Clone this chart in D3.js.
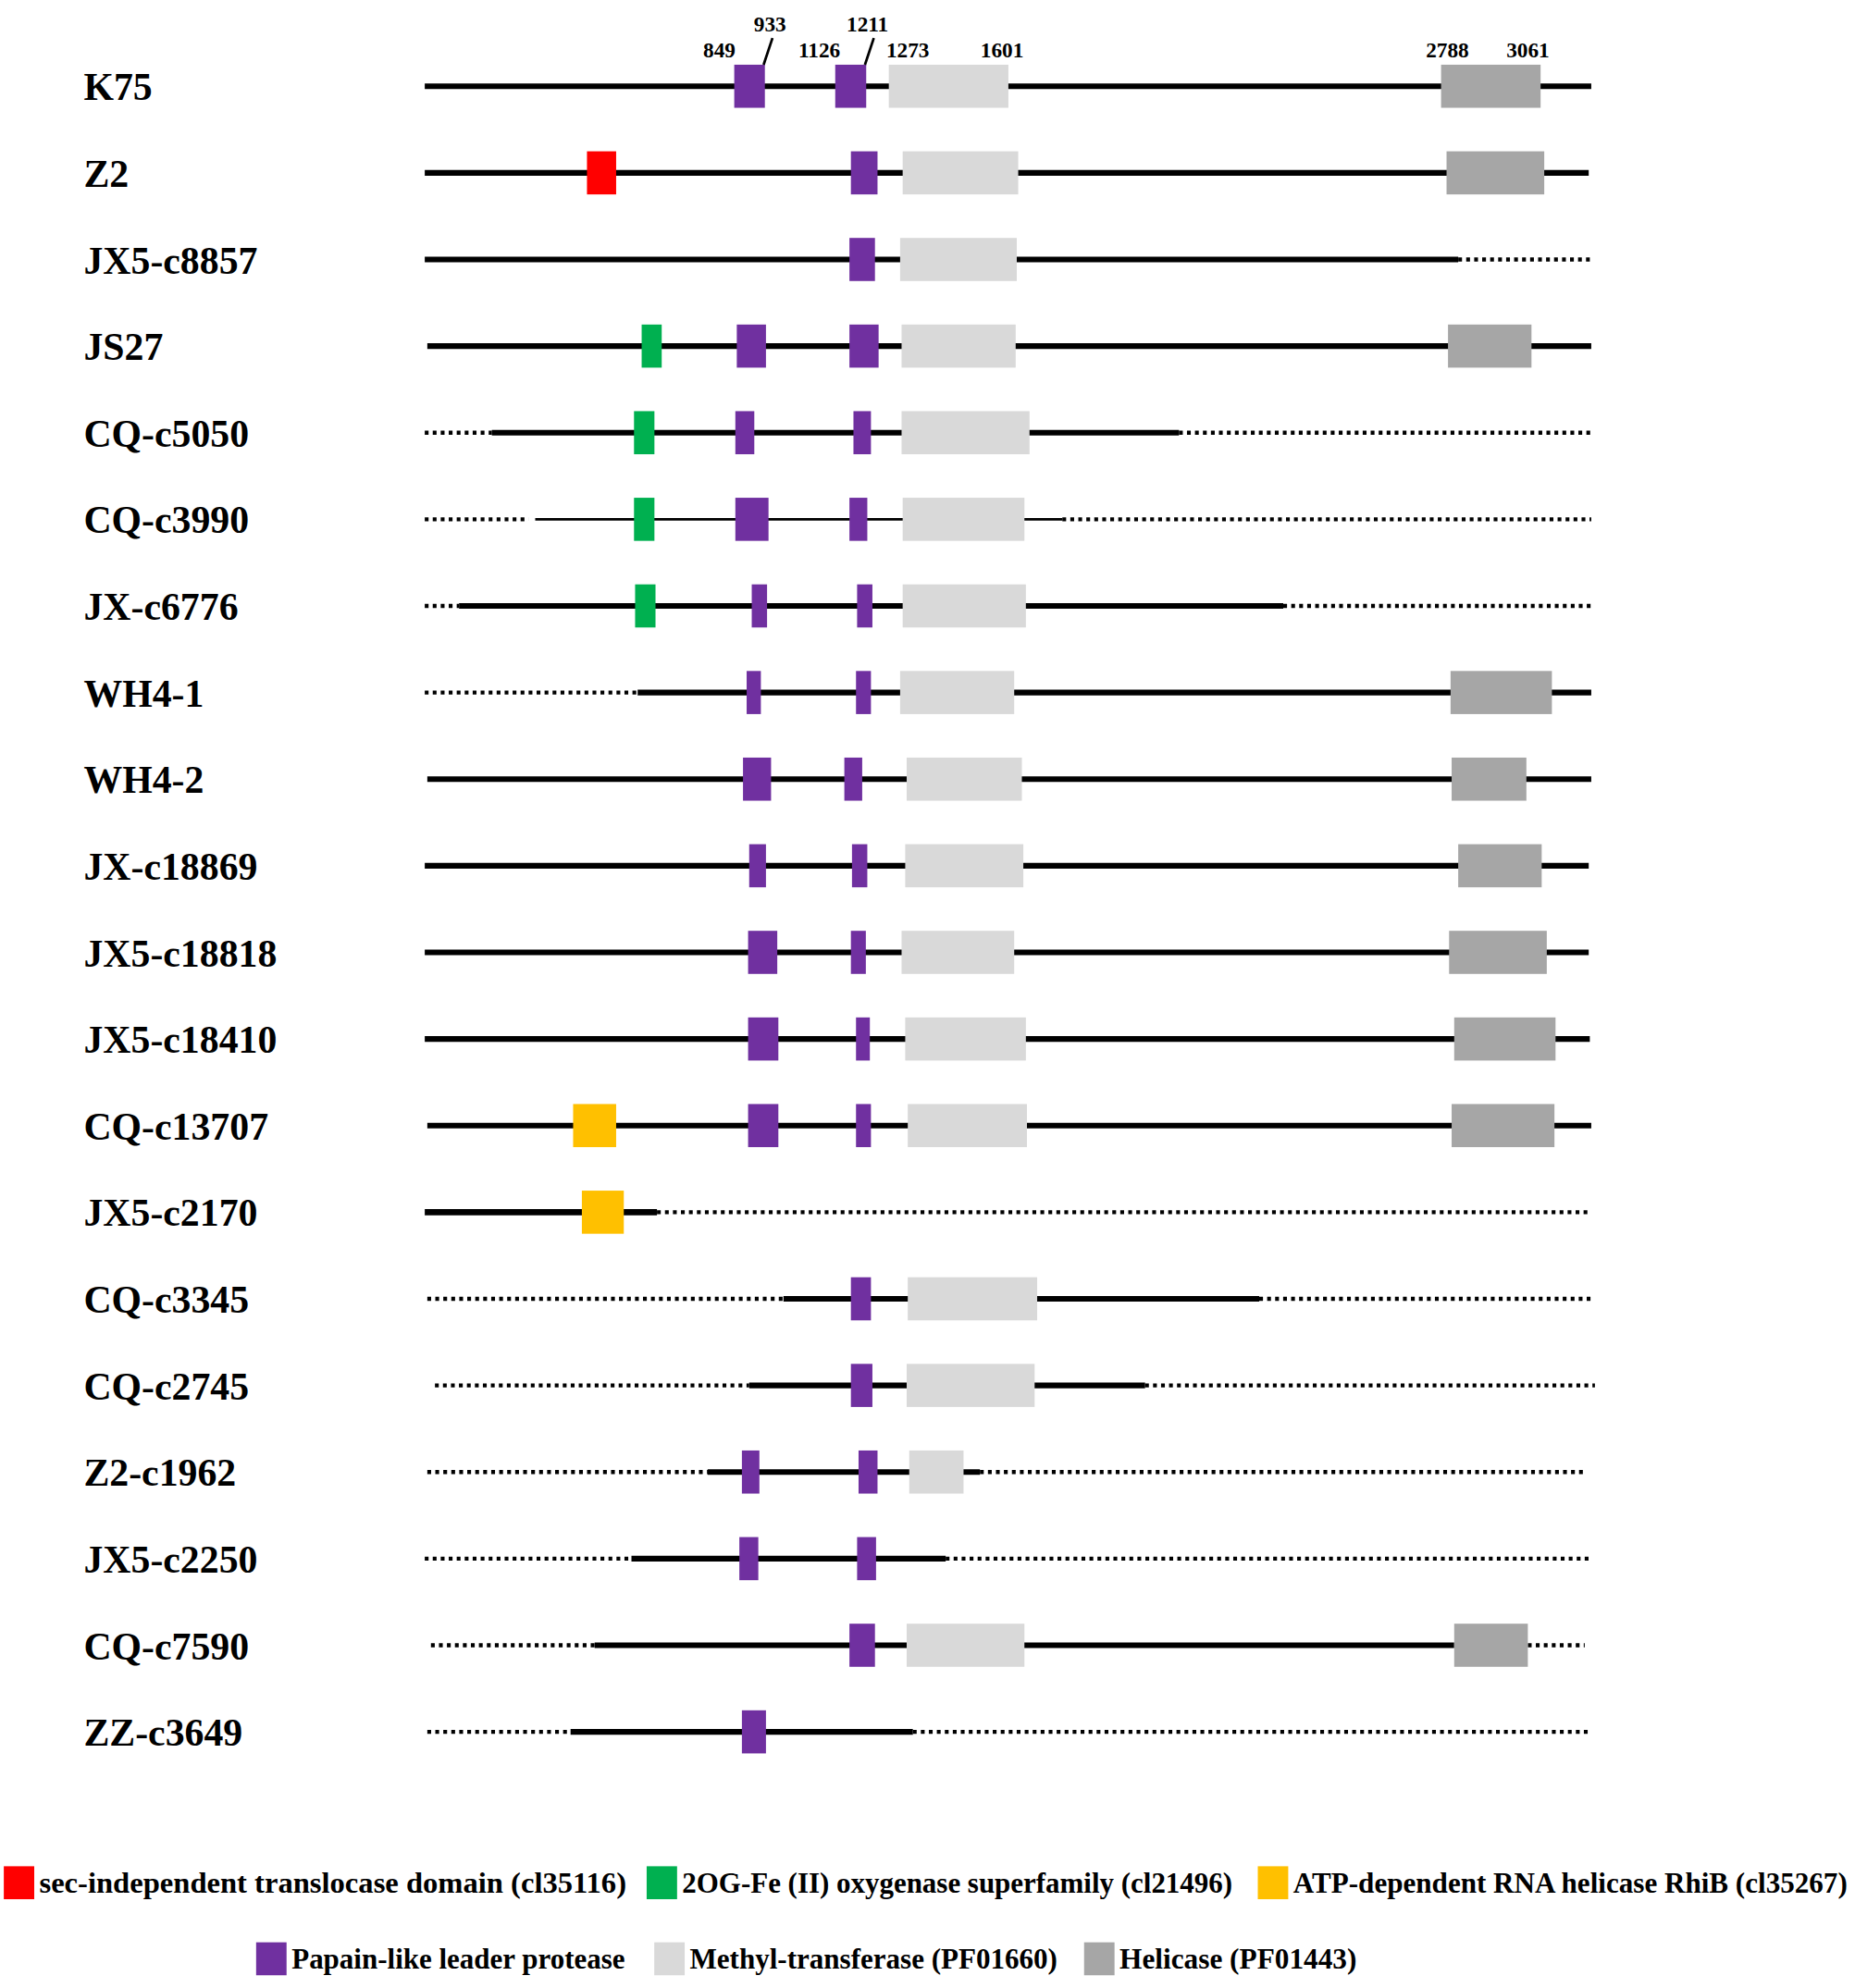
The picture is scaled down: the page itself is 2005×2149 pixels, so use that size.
<!DOCTYPE html>
<html>
<head>
<meta charset="utf-8">
<script src="https://cdn.jsdelivr.net/npm/d3@7"></script>
<style>
  body { margin: 0; background: #fff; }
  text { font-family: "Times New Roman", "Liberation Serif", serif; font-weight: bold; }
</style>
</head>
<body>
<svg id="chart"></svg>
<script>
// genomes, top to bottom
var genomes = ["K75", "Z2", "JX5-c8857", "JS27", "CQ-c5050", "CQ-c3990", "JX-c6776",
  "WH4-1", "WH4-2", "JX-c18869", "JX5-c18818", "JX5-c18410", "CQ-c13707", "JX5-c2170",
  "CQ-c3345", "CQ-c2745", "Z2-c1962", "JX5-c2250", "CQ-c7590", "ZZ-c3649"];

// backbone pieces [from, to, kind]  s = solid, t = thin, b = bold, d = dotted (missing)
var backbone = [
  [[0, 3200, "s"]],
  [[0, 3193, "s"]],
  [[0, 2835, "s"], [2835, 3200, "d"]],
  [[7, 3200, "s"]],
  [[0, 184, "d"], [184, 2069, "s"], [2069, 3200, "d"]],
  [[0, 285, "d"], [303, 1749, "t"], [1749, 3200, "d"]],
  [[0, 94, "d"], [94, 2355, "s"], [2355, 3200, "d"]],
  [[0, 584, "d"], [584, 3200, "s"]],
  [[7, 3200, "s"]],
  [[0, 3193, "s"]],
  [[0, 3193, "s"]],
  [[0, 3196, "s"]],
  [[7, 3200, "s"]],
  [[0, 637, "b"], [637, 3193, "d"]],
  [[7, 984, "d"], [984, 2289, "s"], [2289, 3200, "d"]],
  [[28, 890, "d"], [890, 1976, "s"], [1976, 3210, "d"]],
  [[7, 776, "d"], [776, 1523, "s"], [1523, 3182, "d"]],
  [[0, 567, "d"], [567, 1429, "s"], [1429, 3200, "d"]],
  [[17, 466, "d"], [466, 2824, "s"], [3026, 3182, "d"]],
  [[7, 400, "d"], [400, 1339, "s"], [1339, 3200, "d"]]
];

// domains [type, from, to]
var domains = [
  [["plp", 849, 933], ["plp", 1126, 1211], ["mt", 1273, 1601], ["hel", 2788, 3061]],
  [["sec", 445, 525], ["plp", 1169, 1242], ["mt", 1311, 1628], ["hel", 2803, 3071]],
  [["plp", 1165, 1235], ["mt", 1304, 1624]],
  [["og", 595, 650], ["plp", 856, 936], ["plp", 1165, 1245], ["mt", 1308, 1621], ["hel", 2807, 3036]],
  [["og", 574, 630], ["plp", 852, 904], ["plp", 1176, 1224], ["mt", 1308, 1659]],
  [["og", 574, 630], ["plp", 852, 943], ["plp", 1165, 1214], ["mt", 1311, 1645]],
  [["og", 577, 633], ["plp", 897, 939], ["plp", 1186, 1228], ["mt", 1311, 1649]],
  [["plp", 883, 922], ["plp", 1183, 1224], ["mt", 1304, 1617], ["hel", 2814, 3092]],
  [["plp", 873, 950], ["plp", 1151, 1200], ["mt", 1322, 1638], ["hel", 2817, 3022]],
  [["plp", 890, 936], ["plp", 1172, 1214], ["mt", 1318, 1642], ["hel", 2835, 3064]],
  [["plp", 887, 967], ["plp", 1169, 1210], ["mt", 1308, 1617], ["hel", 2810, 3078]],
  [["plp", 887, 970], ["plp", 1183, 1221], ["mt", 1318, 1649], ["hel", 2824, 3102]],
  [["rhib", 407, 525], ["plp", 887, 970], ["plp", 1183, 1224], ["mt", 1325, 1652], ["hel", 2817, 3099]],
  [["rhib", 431, 546]],
  [["plp", 1169, 1224], ["mt", 1325, 1680]],
  [["plp", 1169, 1228], ["mt", 1322, 1673]],
  [["plp", 870, 918], ["plp", 1190, 1242], ["mt", 1329, 1478]],
  [["plp", 863, 915], ["plp", 1186, 1238]],
  [["plp", 1165, 1235], ["mt", 1322, 1645], ["hel", 2824, 3026]],
  [["plp", 870, 936]]
];

// K75 boundary positions shown on top
var marks = [849, 933, 1126, 1211, 1273, 1601, 2788, 3061];

var legendKeys = ["sec", "og", "rhib", "plp", "mt", "hel"];
var legendNames = ["sec-independent translocase domain (cl35116)",
  "2OG-Fe (II) oxygenase superfamily (cl21496)",
  "ATP-dependent RNA helicase RhiB (cl35267)",
  "Papain-like leader protease",
  "Methyl-transferase (PF01660)",
  "Helicase (PF01443)"];

var colors = {sec: "#ff0000", og: "#00b050", rhib: "#ffc000", plp: "#7030a0", mt: "#d9d9d9", hel: "#a6a6a6"};

// drawing is done in a 1463 x 1568 box, stretched to the window
var W = 1463, H = 1568;
var svg = d3.select("#chart")
    .attr("width", 2005).attr("height", 2149)
    .attr("viewBox", "0 0 " + W + " " + H);

var x = d3.scaleLinear().domain([0, 3200]).range([335, 1255]);
var y = d3.scalePoint().domain(genomes).range([68, 1366]);
var boxH = 34;

var rows = svg.selectAll("g.row")
    .data(genomes)
    .enter().append("g")
    .attr("class", "row")
    .attr("transform", function(d){ return "translate(0," + y(d) + ")"; });

rows.append("text")
    .attr("x", 66)
    .attr("y", 11)
    .style("font-size", "30.5px")
    .attr("fill", "#000")
    .text(function(d){ return d; });

rows.selectAll("line.bb")
    .data(function(d, i){ return backbone[i]; })
    .enter().append("line")
    .attr("class", "bb")
    .attr("x1", function(d){ return x(d[0]); })
    .attr("x2", function(d){ return x(d[1]); })
    .attr("y1", 0).attr("y2", 0)
    .attr("stroke", "#000")
    .attr("stroke-width", function(d){
        if(d[2] === "t") return 2;
        if(d[2] === "b") return 5;
        return d[2] === "d" ? 3.2 : 4.4;
    })
    .attr("stroke-dasharray", function(d){ return d[2] === "d" ? "3,3.3" : null; });

rows.selectAll("rect.dom")
    .data(function(d, i){ return domains[i]; })
    .enter().append("rect")
    .attr("class", "dom")
    .attr("x", function(d){ return x(d[1]); })
    .attr("width", function(d){ return x(d[2]) - x(d[1]); })
    .attr("y", -boxH / 2)
    .attr("height", boxH)
    .attr("fill", function(d){ return colors[d[0]]; });

// K75 position labels, the two upper ones have a small leader line
var upper = [933, 1211];
var markFmt = {849: ["end", 1], 933: ["middle", 4], 1126: ["end", 4], 1211: ["middle", 1],
  1273: ["start", -2], 1601: ["middle", -5], 2788: ["middle", 5], 3061: ["middle", -10]};
var top0 = y("K75") - boxH / 2;

svg.selectAll("text.mark")
    .data(marks)
    .enter().append("text")
    .attr("class", "mark")
    .attr("x", function(d){ return x(d) + markFmt[d][1]; })
    .attr("y", function(d){ return upper.includes(d) ? 25 : 45; })
    .attr("text-anchor", function(d){ return markFmt[d][0]; })
    .style("font-size", "17px")
    .text(function(d){ return d; });

svg.selectAll("line.lead")
    .data(upper)
    .enter().append("line")
    .attr("class", "lead")
    .attr("x1", function(d){ return x(d) - 1; })
    .attr("y1", top0)
    .attr("x2", function(d){ return x(d) + 6; })
    .attr("y2", 30)
    .attr("stroke", "#000")
    .attr("stroke-width", 2);

// legend, two rows
var legPos = [[3, 1472, 463], [510, 1472, 434], [992, 1472, 437],
  [202, 1532, 263], [516, 1532, 290], [855, 1532, 187]];

var leg = svg.selectAll("g.leg")
    .data(legendKeys)
    .enter().append("g")
    .attr("class", "leg")
    .attr("transform", function(d, i){ return "translate(" + legPos[i][0] + "," + legPos[i][1] + ")"; });

leg.append("rect")
    .attr("width", 24).attr("height", 26)
    .attr("fill", function(d){ return colors[d]; });

leg.append("text")
    .attr("x", 28)
    .attr("y", 21)
    .style("font-size", "23px")
    .attr("textLength", function(d, i){ return legPos[i][2]; })
    .attr("lengthAdjust", "spacingAndGlyphs")
    .text(function(d, i){ return legendNames[i]; });
</script>
</body>
</html>
